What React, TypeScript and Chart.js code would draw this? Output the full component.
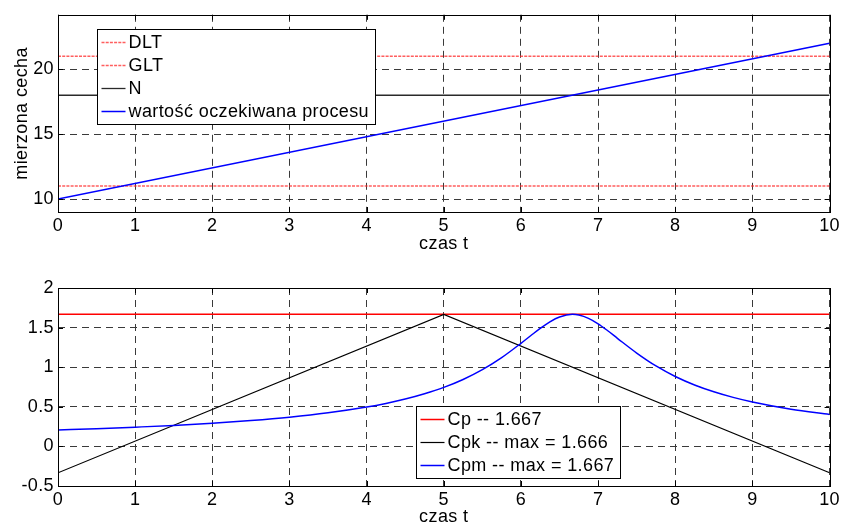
import React, { useEffect, useRef } from "react";
import { Chart, registerables } from "chart.js";

Chart.register(...registerables);

// ---------- data ----------
const timeTicks = [0, 1, 2, 3, 4, 5, 6, 7, 8, 9, 10];
const topYTicks = [10, 15, 20];
const bottomYTicks = [-0.5, 0, 0.5, 1, 1.5, 2];
const topYRange = [9, 24.2];
const bottomYRange = [-0.5, 2];

const lineT = [0, 10];
const dltValues = [11, 11];
const gltValues = [21, 21];
const nValues = [18, 18];
const meanValues = [10, 22];

const cpValues = [1.667, 1.667];
const cpkT = [0, 5, 10];
const cpkValues = [-0.333, 1.666, -0.333];
const cpmT = [0, 0.5, 1, 1.5, 2, 2.5, 3, 3.5, 4, 4.25, 4.5, 4.75, 5, 5.25, 5.5, 5.75, 6, 6.125, 6.25, 6.375, 6.5, 6.667, 6.75, 6.875, 7, 7.125, 7.25, 7.5, 7.75, 8, 8.25, 8.5, 8.75, 9, 9.5, 10];
const cpmValues = [0.207, 0.223, 0.243, 0.265, 0.293, 0.327, 0.369, 0.424, 0.497, 0.543, 0.598, 0.665, 0.745, 0.845, 0.969, 1.121, 1.302, 1.397, 1.491, 1.573, 1.634, 1.667, 1.658, 1.617, 1.548, 1.46, 1.365, 1.179, 1.016, 0.883, 0.776, 0.69, 0.619, 0.561, 0.47, 0.404];

const topLabels = ["DLT", "GLT", "N", "wartość oczekiwana procesu"];
const bottomLabels = ["Cp -- 1.667", "Cpk -- max = 1.666", "Cpm -- max = 1.667"];
const xTitle = "czas t";
const yTitle = "mierzona cecha";

// ---------- styling ----------
const FONT = "'Liberation Sans', Arial, sans-serif";
const FONT_SIZE = 18;
const LETTER_SPACING = "0.4px";

const pts = (xs: number[], ys: number[]) => xs.map((x, i) => ({ x, y: ys[i] }));

const matlabPlugin = {
  id: "matlabFrame",
  beforeUpdate(chart: any) {
    (chart.ctx as any).letterSpacing = LETTER_SPACING;
  },
  beforeDraw(chart: any) {
    (chart.ctx as any).letterSpacing = LETTER_SPACING;
  },
  afterDatasetsDraw(chart: any) {
    const { ctx, chartArea: a, scales } = chart;
    ctx.save();
    ctx.strokeStyle = "#000";
    ctx.lineWidth = 1;
    ctx.setLineDash([]);
    const tl = 5;
    ctx.beginPath();
    scales.x.ticks.forEach((t: any) => {
      const px = Math.round(scales.x.getPixelForValue(t.value)) + 0.5;
      ctx.moveTo(px, a.bottom);
      ctx.lineTo(px, a.bottom - tl);
      ctx.moveTo(px, a.top);
      ctx.lineTo(px, a.top + tl);
    });
    scales.y.ticks.forEach((t: any) => {
      const py = Math.round(scales.y.getPixelForValue(t.value)) + 0.5;
      ctx.moveTo(a.left, py);
      ctx.lineTo(a.left + tl, py);
      ctx.moveTo(a.right, py);
      ctx.lineTo(a.right - tl, py);
    });
    ctx.stroke();
    ctx.strokeRect(Math.round(a.left) + 0.5, Math.round(a.top) + 0.5, Math.round(a.right - a.left), Math.round(a.bottom - a.top));
    ctx.restore();
  },
  afterDraw(chart: any, _args: any, opts: any) {
    const { ctx, chartArea: a } = chart;
    const items = chart.data.datasets;
    ctx.save();
    (ctx as any).letterSpacing = LETTER_SPACING;
    ctx.font = `${FONT_SIZE}px ${FONT}`;
    const rowH = 23;
    const sample = 24, gap = 3, padL = 4, padR = 6;
    const textW = Math.max(...items.map((d: any) => ctx.measureText(d.label).width));
    const w = Math.round(padL + sample + gap + textW + padR);
    const h = items.length * rowH + 3;
    const x0 = Math.round(a.left + opts.legendX) + 0.5;
    const y0 = Math.round(a.top + opts.legendY) + 0.5;
    ctx.fillStyle = "#fff";
    ctx.fillRect(x0, y0, w, h);
    ctx.strokeStyle = "#000";
    ctx.lineWidth = 1;
    ctx.setLineDash([]);
    ctx.strokeRect(x0, y0, w, h);
    items.forEach((d: any, i: number) => {
      const cy = Math.round(y0 + 13 + i * rowH) - 0.5;
      ctx.strokeStyle = d.borderColor;
      ctx.lineWidth = d.borderWidth;
      ctx.setLineDash(d.borderDash || []);
      ctx.beginPath();
      ctx.moveTo(x0 + padL, cy);
      ctx.lineTo(x0 + padL + sample, cy);
      ctx.stroke();
      ctx.setLineDash([]);
      ctx.fillStyle = "#000";
      ctx.textBaseline = "middle";
      ctx.textAlign = "left";
      ctx.fillText(d.label, x0 + padL + sample + gap, cy + 1);
    });
    ctx.restore();
  },
};

function makeOptions(cfg: {
  top: number;
  xHeight: number;
  yMin: number;
  yMax: number;
  yTicks: number[];
  yTitle?: string;
  legendX: number;
  legendY: number;
}) {
  const font = { family: FONT, size: FONT_SIZE };
  return {
    responsive: false,
    animation: false,
    events: [],
    layout: { padding: { left: 0, right: 11, top: cfg.top, bottom: 0 } },
    elements: { point: { radius: 0 }, line: { tension: 0 } },
    plugins: {
      legend: { display: false },
      tooltip: { enabled: false },
      matlabFrame: { legendX: cfg.legendX, legendY: cfg.legendY },
    },
    scales: {
      x: {
        type: "linear",
        min: 0,
        max: 10,
        afterBuildTicks: (s: any) => {
          s.ticks = timeTicks.map((v) => ({ value: v }));
        },
        afterFit: (s: any) => {
          s.height = cfg.xHeight;
        },
        ticks: {
          font,
          color: "#000",
          padding: 3,
          maxRotation: 0,
          minRotation: 0,
          autoSkip: false,
          callback: (v: any) => String(v),
        },
        grid: { color: "#3a3a3a", lineWidth: 1, drawTicks: false },
        border: { display: false, dash: [7, 5] },
        title: {
          display: true,
          text: xTitle,
          font,
          color: "#000",
          padding: { top: 0, bottom: 7 },
        },
      },
      y: {
        type: "linear",
        min: cfg.yMin,
        max: cfg.yMax,
        afterBuildTicks: (s: any) => {
          s.ticks = cfg.yTicks.map((v) => ({ value: v }));
        },
        afterFit: (s: any) => {
          s.width = 58;
        },
        ticks: {
          font,
          color: "#000",
          padding: 4,
          autoSkip: false,
          callback: (v: any) => String(v),
        },
        grid: { color: "#3a3a3a", lineWidth: 1, drawTicks: false },
        border: { display: false, dash: [7, 5] },
        title: {
          display: !!cfg.yTitle,
          text: cfg.yTitle || "",
          font,
          color: "#000",
          padding: { top: 11, bottom: 0 },
        },
      },
    },
  };
}

export default function App() {
  const topRef = useRef<HTMLCanvasElement | null>(null);
  const botRef = useRef<HTMLCanvasElement | null>(null);

  useEffect(() => {
    const redDash = { borderColor: "rgba(255,40,40,0.75)", borderWidth: 1.6, borderDash: [3, 1.2] };
    const top = new Chart(topRef.current as HTMLCanvasElement, {
      type: "line",
      data: {
        datasets: [
          { label: topLabels[0], data: pts(lineT, dltValues), ...redDash, order: 4 },
          { label: topLabels[1], data: pts(lineT, gltValues), ...redDash, order: 3 },
          { label: topLabels[2], data: pts(lineT, nValues), borderColor: "#2a2a2a", borderWidth: 1.3, order: 2 },
          { label: topLabels[3], data: pts(lineT, meanValues), borderColor: "#0000ff", borderWidth: 1.5, order: 1 },
        ],
      },
      options: makeOptions({
        top: 13,
        xHeight: 50,
        yMin: topYRange[0],
        yMax: topYRange[1],
        yTicks: topYTicks,
        yTitle,
        legendX: 39,
        legendY: 14,
      }) as any,
      plugins: [matlabPlugin],
    });

    const bottom = new Chart(botRef.current as HTMLCanvasElement, {
      type: "line",
      data: {
        datasets: [
          { label: bottomLabels[0], data: pts(lineT, cpValues), borderColor: "#ff0000", borderWidth: 1.5, order: 3 },
          { label: bottomLabels[1], data: pts(cpkT, cpkValues), borderColor: "#000", borderWidth: 1.2, order: 2 },
          {
            label: bottomLabels[2],
            data: pts(cpmT, cpmValues),
            borderColor: "#0000ff",
            borderWidth: 1.5,
            cubicInterpolationMode: "monotone",
            order: 1,
          },
        ],
      },
      options: makeOptions({
        top: 26,
        xHeight: 49,
        yMin: bottomYRange[0],
        yMax: bottomYRange[1],
        yTicks: bottomYTicks,
        legendX: 358,
        legendY: 118,
      }) as any,
      plugins: [matlabPlugin],
    });

    return () => {
      top.destroy();
      bottom.destroy();
    };
  }, []);

  return (
    <div
      style={{
        position: "absolute",
        left: 0,
        top: 0,
        width: 843,
        height: 525,
        overflow: "hidden",
        background: "#fff",
      }}
    >
      <canvas ref={topRef} width={843} height={262} style={{ position: "absolute", left: 0, top: 0, display: "block" }} />
      <canvas ref={botRef} width={843} height={273} style={{ position: "absolute", left: 0, top: 262, display: "block" }} />
    </div>
  );
}
